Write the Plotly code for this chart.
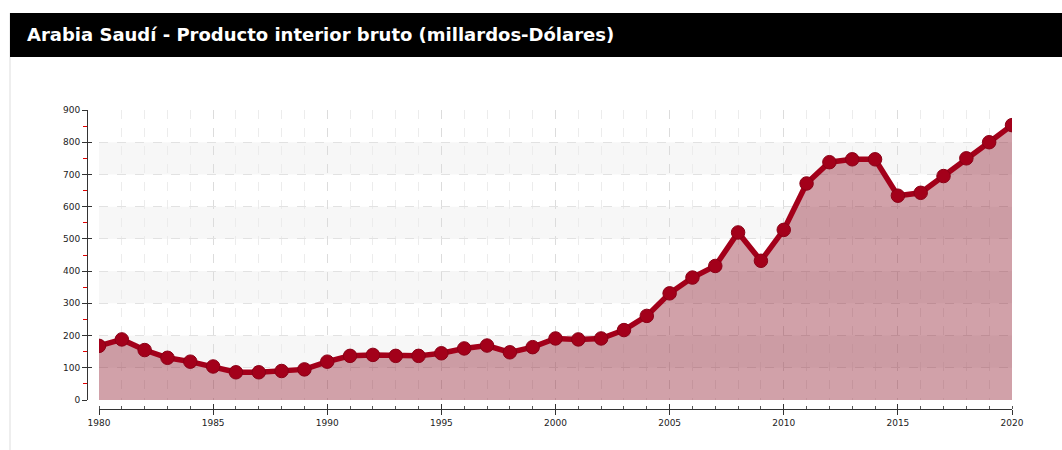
import plotly.graph_objects as go

years = list(range(1980, 2021))
gdp = [168, 188, 155, 131, 119, 104, 86, 86, 90, 95,
       119, 137, 140, 137, 137, 145, 160, 169, 148, 164,
       191, 188, 191, 217, 261, 331, 380, 416, 520, 432,
       528, 672, 738, 747, 747, 634, 643, 695, 750, 800,
       853]
y_ticks = [0, 100, 200, 300, 400, 500, 600, 700, 800, 900]
x_ticks = [1980, 1985, 1990, 1995, 2000, 2005, 2010, 2015, 2020]
title_text = "Arabia Saudí - Producto interior bruto (millardos-Dólares)"

W, H = 1062, 450
ML, MR, MT, MB = 87, 50, 110, 41
PW, PH = W - ML - MR, H - MT - MB


def px(x):
    return (x - ML) / PW


def py(y):
    return (H - MB - y) / PH


LINE = "#a3001a"
FILL = "rgba(140,20,40,0.40)"
FONT = "DejaVu Sans"

fig = go.Figure()
fig.add_trace(go.Scatter(
    x=years, y=gdp, mode="lines+markers",
    line=dict(color=LINE, width=5.5),
    marker=dict(color=LINE, size=13.5, line=dict(color="#8a0016", width=1)),
    fill="tozeroy", fillcolor=FILL,
    hoverinfo="x+y", showlegend=False,
))
# transparent traces to activate helper axes
for xa, ya in [("x2", "y2"), ("x3", "y3")]:
    fig.add_trace(go.Scatter(x=years, y=gdp, xaxis=xa, yaxis=ya, mode="lines",
                             line=dict(color="rgba(0,0,0,0)"), hoverinfo="skip",
                             showlegend=False))

xr = [years[0], years[-1]]
yr = [y_ticks[0], y_ticks[-1]]
xdom = [12 / PW, 1]
ydom = [9 / PH, 1]

# alternating bands
shapes = []
for i in range(1, len(y_ticks) - 1, 2):
    shapes.append(dict(type="rect", xref="x", yref="y", x0=xr[0], x1=xr[1],
                       y0=y_ticks[i], y1=y_ticks[i + 1], fillcolor="#f7f7f7",
                       line=dict(width=0), layer="below"))
# panel left border
shapes.append(dict(type="line", xref="paper", yref="paper", x0=px(10), x1=px(10),
                   y0=py(450), y1=py(13), line=dict(color="#dddddd", width=1),
                   layer="below"))
# title bar
shapes.append(dict(type="rect", xref="paper", yref="paper", x0=px(10), x1=px(1062),
                   y0=py(57), y1=py(13), fillcolor="#000000",
                   line=dict(width=0), layer="above"))

fig.update_layout(
    width=W, height=H,
    margin=dict(l=ML, r=MR, t=MT, b=MB),
    paper_bgcolor="white", plot_bgcolor="rgba(0,0,0,0)",
    shapes=shapes,
    annotations=[dict(text="<b>" + title_text + "</b>", xref="paper", yref="paper",
                      x=px(25), y=py(35), xanchor="left", yanchor="middle",
                      showarrow=False, font=dict(family=FONT, size=18, color="white"))],
    xaxis=dict(domain=xdom, range=xr, showticklabels=False, ticks="",
               showgrid=True, tick0=1980, dtick=5, gridcolor="#dcdcdc", griddash="dash",
               gridwidth=1, zeroline=False, showline=False,
               minor=dict(dtick=1, showgrid=True, gridcolor="#ececec", griddash="dash")),
    yaxis=dict(domain=ydom, range=yr, showticklabels=False, ticks="",
               showgrid=True, dtick=100, gridcolor="#e2e2e2", griddash="dash",
               zeroline=False, showline=False),
    xaxis2=dict(overlaying="x", anchor="free", position=0, range=xr, domain=xdom,
                showgrid=False, zeroline=False, showline=True, linecolor="#333",
                linewidth=1, tickmode="array", tickvals=x_ticks,
                ticktext=[str(v) for v in x_ticks], ticks="outside", ticklen=5,
                tickcolor="#333", tickfont=dict(family=FONT, size=9, color="#222"),
                minor=dict(dtick=1, tick0=1980, ticks="inside", ticklen=3, tickcolor="#555")),
    xaxis3=dict(overlaying="x", anchor="free", position=0, range=xr, domain=xdom,
                showgrid=False, zeroline=False, showline=False, showticklabels=False,
                tickmode="array", tickvals=x_ticks, ticks="inside", ticklen=5,
                tickcolor="#333"),
    yaxis2=dict(overlaying="y", anchor="free", position=0, range=yr, domain=ydom,
                side="left", showgrid=False, zeroline=False, showline=True,
                linecolor="#333", linewidth=1, tickmode="array", tickvals=y_ticks,
                ticks="outside", ticklen=5, tickcolor="#333",
                tickfont=dict(family=FONT, size=9, color="#222"),
                minor=dict(dtick=50, tick0=0, ticks="outside", ticklen=4, tickcolor="#e00000")),
    yaxis3=dict(overlaying="y", anchor="free", position=0, range=yr, domain=ydom,
                side="left", showgrid=False, zeroline=False, showline=False,
                showticklabels=False, tickmode="array", tickvals=y_ticks,
                ticks="inside", ticklen=4, tickcolor="#333"),
)

fig.write_html("out.html", config={"displayModeBar": False},
               post_script="document.body.style.margin='0px';")
